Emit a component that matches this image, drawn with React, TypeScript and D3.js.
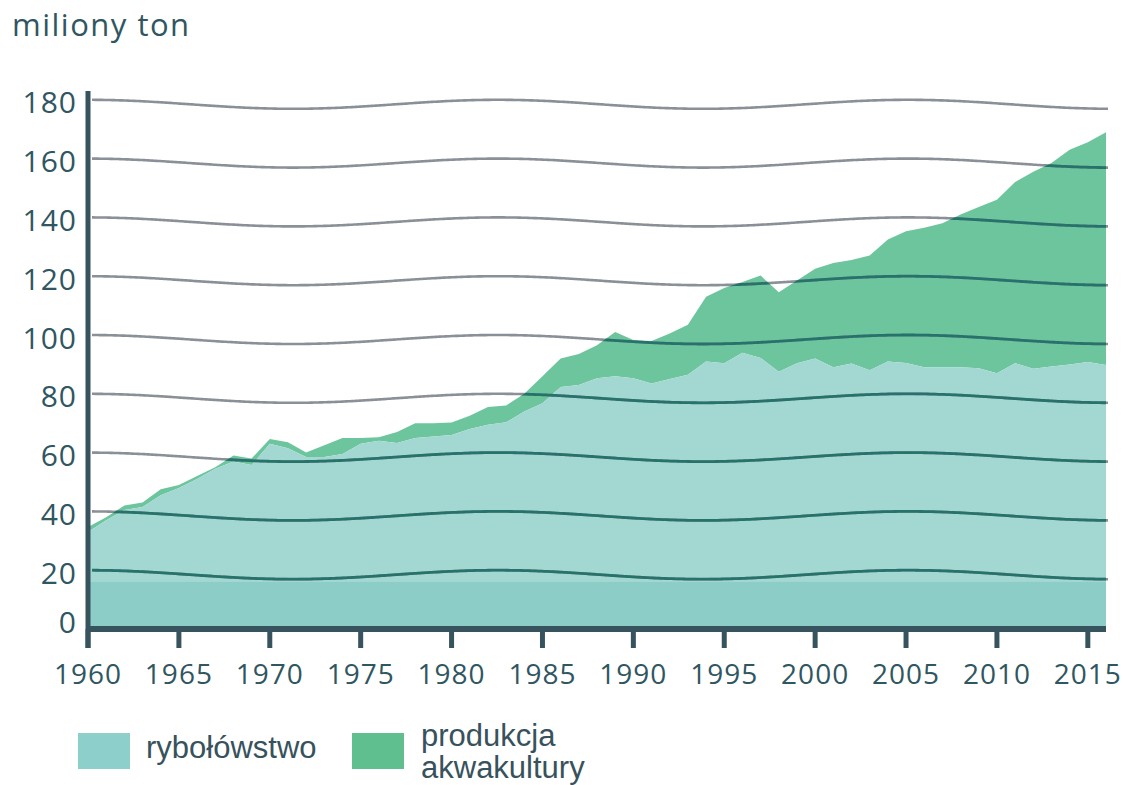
import * as d3 from "d3";

// lata 1960-2016
const years = d3.range(1960, 2017);

// rybołówstwo (mln ton)
const fisheries = [
  33, 37, 40.5, 41.5, 45.5, 48, 51, 54.5, 57, 55.8,
  63, 61.5, 58.5, 58.5, 59.5, 63, 64, 63.3, 65, 65.5,
  66, 68, 69.5, 70.3, 74, 76.8, 82.3, 83, 85.3, 86,
  85.3, 83.5, 85, 86.5, 91, 90.4, 94, 92.2, 87.5, 90.4,
  92, 89, 90.3, 88, 91, 90.5, 89, 89, 89, 88.7,
  87, 90.4, 88.5, 89.3, 90, 90.8, 89.8,
];

// produkcja akwakultury (mln ton)
const aquaculture = [
  1.7, 1.0, 1.5, 1.5, 2, 1, 1, 0.5, 2, 2.2,
  1.6, 2, 1.5, 4, 5.5, 2, 1.2, 3.7, 5, 4.5,
  4.2, 4.5, 6, 5.7, 6, 9.2, 9.7, 10.5, 11.2, 15,
  13, 14.5, 15.5, 17, 22, 25.6, 24, 28, 27, 28.1,
  30.5, 35.5, 35.2, 39, 41.5, 44.8, 47.5, 49, 52, 54.8,
  59, 61.6, 67, 69.2, 73, 74.8, 79.2,
];

const yTicks = [0, 20, 40, 60, 80, 100, 120, 140, 160, 180];
const xTicks = [1960, 1965, 1970, 1975, 1980, 1985, 1990, 1995, 2000, 2005, 2010, 2015];

const W = 1123;
const H = 785;
const textColor = "#2f5661";
const axisColor = "#37545e";
const fishColor = "#a3d7d2";
const fishDark = "#8ccdc8";
const aquaColor = "#6cc59d";

export default function App() {
  const x = d3.scaleLinear().domain([1960, 2016]).range([88, 1106]);
  const y = d3.scaleLinear().domain([0, 180]).range([629, 99.8]);

  const rows = years.map((yr, i) => ({ year: yr, fish: fisheries[i], aqua: aquaculture[i] }));
  const series = d3.stack<any>().keys(["fish", "aqua"])(rows);

  const area = d3
    .area<any>()
    .x((d) => x(d.data.year))
    .y0((d) => y(d[0]))
    .y1((d) => y(d[1]));

  const totalArea = d3
    .area<any>()
    .x((d) => x(d.year))
    .y0(y(0))
    .y1((d) => y(d.fish + d.aqua));

  const fishArea = d3
    .area<any>()
    .x((d) => x(d.year))
    .y0(y(0))
    .y1((d) => y(d.fish));

  // falujące linie siatki
  const waveX = d3.range(92, 1110, 4);
  const wave = (v: number) =>
    d3
      .line<number>()
      .x((px) => px)
      .y((px) => y(v) + 4.5 * (1 - Math.cos((2 * Math.PI * (px - 88)) / 410)))
      .curve(d3.curveBasis)(waveX);

  return (
    <svg width={W} height={H} style={{ position: "absolute", left: 0, top: 0, background: "#fff" }}>
      <defs>
        <clipPath id="clip-total">
          <path d={totalArea(rows) || ""} />
        </clipPath>
        <clipPath id="clip-fish">
          <path d={fishArea(rows) || ""} />
        </clipPath>
      </defs>

      <text x={12} y={36} fontFamily="Open Sans" fontSize={31} letterSpacing={1.5} fill={textColor}>
        miliony ton
      </text>

      <path d={area(series[1]) || ""} fill={aquaColor} />
      <path d={area(series[0]) || ""} fill={fishColor} />
      <rect
        x={x(1960)}
        y={y(16)}
        width={x(2016) - x(1960)}
        height={y(0) - y(16)}
        fill={fishDark}
        clipPath="url(#clip-fish)"
      />

      {yTicks
        .filter((v) => v > 0)
        .map((v) => (
          <path key={"g" + v} d={wave(v) || ""} fill="none" stroke="#8a9097" strokeWidth={2.6} />
        ))}
      <g clipPath="url(#clip-total)">
        {yTicks
          .filter((v) => v > 0)
          .map((v) => (
            <path key={"d" + v} d={wave(v) || ""} fill="none" stroke="#27736c" strokeWidth={2.8} />
          ))}
      </g>

      {/* osie */}
      <line x1={88} x2={88} y1={91} y2={648} stroke={axisColor} strokeWidth={5} />
      <line x1={86} x2={x(2016)} y1={629} y2={629} stroke={axisColor} strokeWidth={6} />
      {xTicks.map((t) => (
        <g key={t}>
          <line x1={x(t)} x2={x(t)} y1={629} y2={648} stroke={axisColor} strokeWidth={5} />
          <text
            x={x(t)}
            y={684}
            textAnchor="middle"
            fontFamily="Open Sans"
            fontSize={28}
            letterSpacing={1}
            fill={textColor}
          >
            {t}
          </text>
        </g>
      ))}
      {yTicks.map((v) => (
        <text
          key={v}
          x={77}
          y={Math.min(y(v) + 2, 621)}
          textAnchor="end"
          dominantBaseline="central"
          fontFamily="Open Sans"
          fontSize={30}
          letterSpacing={1}
          fill={textColor}
        >
          {v}
        </text>
      ))}

      {/* legenda */}
      <rect x={78} y={733} width={52} height={36} fill="#8dcfca" />
      <text x={146} y={758} fontFamily="Liberation Sans" fontSize={31} fill="#37525c">
        rybołówstwo
      </text>
      <rect x={352} y={733} width={52} height={36} fill="#5fbf8f" />
      <text fontFamily="Liberation Sans" fontSize={31} fill="#37525c">
        <tspan x={421} y={746}>produkcja</tspan>
        <tspan x={421} y={778}>akwakultury</tspan>
      </text>
    </svg>
  );
}
